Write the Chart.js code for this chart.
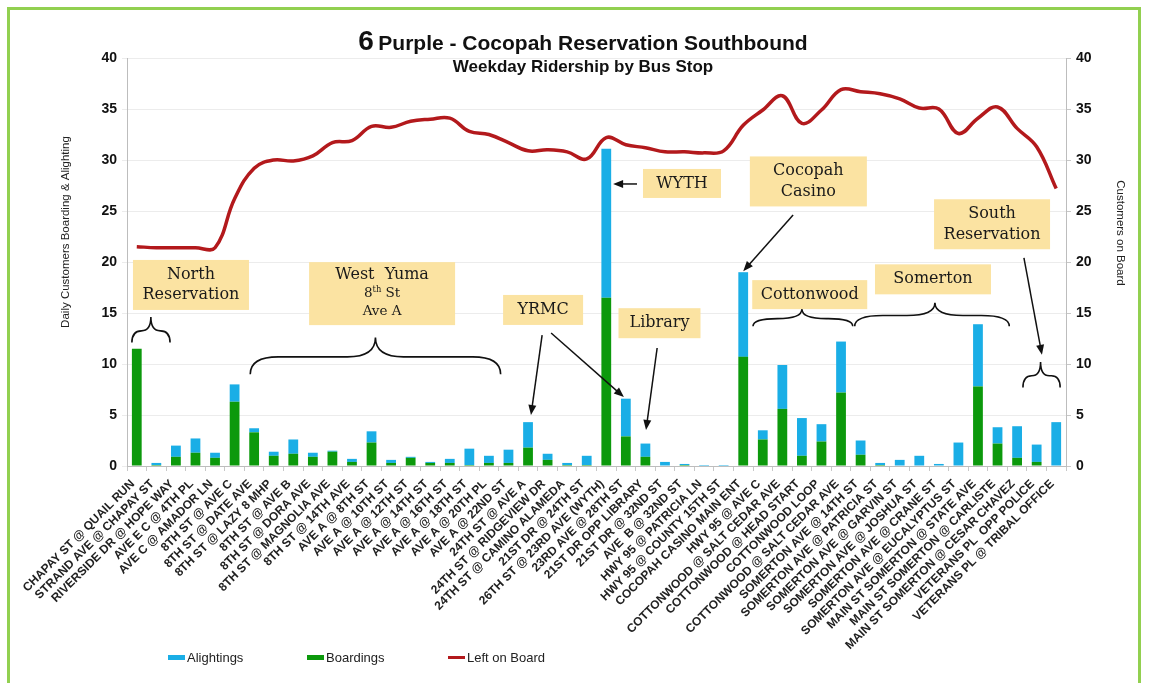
<!DOCTYPE html>
<html>
<head>
<meta charset="utf-8">
<title>6 Purple - Cocopah Reservation Southbound</title>
<script src="https://cdn.jsdelivr.net/npm/chart.js@4.4.1/dist/chart.umd.min.js"></script>
<style>
	body { margin: 0; background: #fff; font-family: "Liberation Sans", Arial, sans-serif; }
	#wrap { position: relative; width: 1149px; height: 683px; overflow: hidden; }
	#wrap canvas { position: absolute; left: 0; top: 0; }
	.frame { position: absolute; left: 7px; top: 7px; width: 1128px; height: 700px; border: 3px solid #92d050; }
	.title { position: absolute; left: 283px; width: 600px; text-align: center; top: 26px; line-height: 30px; font-weight: bold; color: #111; white-space: nowrap; }
	.subtitle { position: absolute; left: 283px; width: 600px; text-align: center; top: 57px; line-height: 20px; font-size: 17px; font-weight: bold; color: #111; white-space: nowrap; }
	.legend-item { position: absolute; top: 650px; height: 16px; line-height: 16px; font-size: 13px; color: #222; white-space: nowrap; }
	.legend-item i { display: inline-block; width: 17px; vertical-align: middle; margin-right: 2px; position: relative; top: -1px; }
</style>
</head>
<body>
<div id="wrap">
	<canvas id="myChart" width="1149" height="683"></canvas>
	<div class="frame"></div>
	<div class="title"><span style="font-size:28px">6</span> <span style="font-size:21px">Purple - Cocopah Reservation Southbound</span></div>
	<div class="subtitle">Weekday Ridership by Bus Stop</div>
	<div id="legend"></div>
</div>
<script>
/* globals Chart:false */
const stops = [
	'CHAPAY ST @ QUAIL RUN', 'STRAND AVE @ CHAPAY ST', 'RIVERSIDE DR @ HOPE WAY', 'AVE E C @ 4TH PL',
	'AVE C @ AMADOR LN', '8TH ST @ AVE C', '8TH ST @ DATE AVE', '8TH ST @ LAZY 8 MHP',
	'8TH ST @ AVE B', '8TH ST @ DORA AVE', '8TH ST @ MAGNOLIA AVE', '8TH ST @ 14TH AVE',
	'AVE A @ 8TH ST', 'AVE A @ 10TH ST', 'AVE A @ 12TH ST', 'AVE A @ 14TH ST',
	'AVE A @ 16TH ST', 'AVE A @ 18TH ST', 'AVE A @ 20TH PL', 'AVE A @ 22ND ST',
	'24TH ST @ AVE A', '24TH ST @ RIDGEVIEW DR', '24TH ST @ CAMINO ALAMEDA', '21ST DR @ 24TH ST',
	'26TH ST @ 23RD AVE (WYTH)', '23RD AVE @ 28TH ST', '21ST DR OPP LIBRARY', '21ST DR @ 32ND ST',
	'AVE  B @ 32ND ST', 'HWY 95 @ PATRICIA LN', 'HWY 95 @ COUNTY 15TH ST', 'COCOPAH CASINO MAIN ENT',
	'HWY 95 @ AVE C', 'COTTONWOOD @ SALT CEDAR AVE', 'COTTONWOOD @ HEAD START', 'COTTONWOOD LOOP',
	'COTTONWOOD @ SALT CEDAR AVE', 'SOMERTON AVE @ 14TH ST', 'SOMERTON AVE @ PATRICIA ST', 'SOMERTON AVE @ GARVIN ST',
	'SOMERTON AVE @ JOSHUA ST', 'SOMERTON AVE @ CRANE ST', 'SOMERTON AVE @ EUCALYPTUS ST', 'MAIN ST SOMERTON @ STATE AVE',
	'MAIN ST SOMERTON @ CARLISTE', 'MAIN ST SOMERTON @ CESAR CHAVEZ', 'VETERANS PL  OPP POLICE', 'VETERANS PL @ TRIBAL OFFICE'
];

const boardings = [
	11.5, 0.1, 0.9, 1.3, 0.8, 6.3, 3.3, 1.0, 1.2, 0.9, 1.4, 0.4,
	2.3, 0.3, 0.8, 0.3, 0.3, 0.1, 0.3, 0.3, 1.8, 0.6, 0.1, 0.1,
	16.5, 2.9, 0.9, 0.0, 0.1, 0.0, 0.0, 10.7, 2.6, 5.6, 1.0, 2.4,
	7.2, 1.1, 0.1, 0.0, 0.0, 0.0, 0.0, 7.8, 2.2, 0.8, 0.4, 0.0
];

const alightings = [
	0.0, 0.2, 1.1, 1.4, 0.5, 1.7, 0.4, 0.4, 1.4, 0.4, 0.1, 0.3,
	1.1, 0.3, 0.1, 0.1, 0.4, 1.6, 0.7, 1.3, 2.5, 0.6, 0.2, 0.9,
	14.6, 3.7, 1.3, 0.4, 0.1, 0.1, 0.1, 8.3, 0.9, 4.3, 3.7, 1.7,
	5.0, 1.4, 0.2, 0.6, 1.0, 0.2, 2.3, 6.1, 1.6, 3.1, 1.7, 4.3
];

const leftOnBoard = [
	21.5, 21.4, 21.4, 21.4, 21.4, 26.2, 29.2, 30.0, 29.9, 30.4, 31.7, 31.9,
	33.3, 33.2, 33.8, 34.0, 34.1, 32.8, 32.5, 31.7, 30.9, 31.0, 30.8, 30.1,
	32.2, 31.5, 31.2, 30.8, 30.8, 30.7, 30.9, 33.4, 34.9, 36.3, 33.6, 34.9,
	36.9, 36.7, 36.5, 36.0, 35.1, 35.0, 32.6, 34.1, 35.2, 33.1, 31.3, 27.2
];

const yTicks = [0, 5, 10, 15, 20, 25, 30, 35, 40];

const colors = { alight: '#1aaee6', board: '#0c990c', onBoard: '#b3191c' };

// callout boxes, placed in category index / axis value units
const callouts = [
	{ lines: [['North', 16], ['Reservation', 16]], i: 2.77, v: 17.75, w: 116, h: 50 },
	{ lines: [['West  Yuma', 16], ['8|th| St', 13.5], ['Ave A', 13.5]], i: 12.54, v: 16.9, w: 146, h: 63 },
	{ lines: [['YRMC', 16]], i: 20.77, v: 15.3, w: 80, h: 30 },
	{ lines: [['WYTH', 16]], i: 27.87, v: 27.7, w: 78, h: 29 },
	{ lines: [['Library', 16]], i: 26.72, v: 14.0, w: 82, h: 30 },
	{ lines: [['Cocopah', 16], ['Casino', 16]], i: 34.33, v: 27.9, w: 117, h: 50 },
	{ lines: [['Cottonwood', 16]], i: 34.4, v: 16.8, w: 115, h: 29 },
	{ lines: [['Somerton', 16]], i: 40.7, v: 18.3, w: 116, h: 30 },
	{ lines: [['South', 16], ['Reservation', 16]], i: 43.72, v: 23.7, w: 116, h: 50 }
];

// braces: from index, to index, tip index, tip value, end value
const braces = [
	[-0.25, 1.7, 0.72, 14.6, 12.1],
	[5.8, 18.6, 12.2, 12.6, 9.0],
	[31.5, 36.6, 34.0, 15.4, 13.7],
	[36.7, 44.6, 40.8, 16.0, 13.7],
	[45.3, 47.2, 46.2, 10.2, 7.7]
];

// arrows: from index, from value, to index, to value
const arrows = [
	[20.72, 12.84, 20.15, 5.0],
	[21.18, 13.04, 24.9, 6.76],
	[26.6, 11.57, 26.03, 3.53],
	[25.57, 27.65, 24.35, 27.65],
	[33.55, 24.6, 31.0, 19.1],
	[45.35, 20.4, 46.27, 10.9]
];

const axisTitles = [
	{ text: 'Daily Customers Boarding & Alighting', x: 66, y: 232, rot: -Math.PI / 2 },
	{ text: 'Customers on Board', x: 1120, y: 233, rot: Math.PI / 2 }
];

function drawArrow(ctx, x1, y1, x2, y2) {
	let ang = Math.atan2(y2 - y1, x2 - x1);
	ctx.beginPath();
	ctx.moveTo(x1, y1);
	ctx.lineTo(x2 - 6 * Math.cos(ang), y2 - 6 * Math.sin(ang));
	ctx.stroke();
	ctx.beginPath();
	ctx.moveTo(x2, y2);
	ctx.lineTo(x2 - 10 * Math.cos(ang) + 4 * Math.sin(ang), y2 - 10 * Math.sin(ang) - 4 * Math.cos(ang));
	ctx.lineTo(x2 - 10 * Math.cos(ang) - 4 * Math.sin(ang), y2 - 10 * Math.sin(ang) + 4 * Math.cos(ang));
	ctx.closePath();
	ctx.fill();
}

function drawBrace(ctx, x0, x1, xc, yt, yb) {
	let ym = (yt + yb) / 2 + 1;
	let q = Math.min(28, (xc - x0) / 2, (x1 - xc) / 2);
	ctx.beginPath();
	ctx.moveTo(x0, yb);
	ctx.quadraticCurveTo(x0, ym, x0 + q, ym);
	ctx.lineTo(xc - q, ym);
	ctx.quadraticCurveTo(xc, ym, xc, yt);
	ctx.quadraticCurveTo(xc, ym, xc + q, ym);
	ctx.lineTo(x1 - q, ym);
	ctx.quadraticCurveTo(x1, ym, x1, yb);
	ctx.stroke();
}

const annotatePlugin = {
	id: 'annotate',
	afterDraw(chart) {
		const ctx = chart.ctx;
		const xs = chart.scales.x;
		const ys = chart.scales.y;
		const px = i => xs.getPixelForValue(i);
		const py = v => ys.getPixelForValue(v);
		ctx.save();

		// axis titles
		ctx.fillStyle = '#222';
		ctx.font = '11.5px "Liberation Sans", Arial, sans-serif';
		ctx.textAlign = 'center';
		ctx.textBaseline = 'middle';
		axisTitles.forEach(t => {
			ctx.save();
			ctx.translate(t.x, t.y);
			ctx.rotate(t.rot);
			ctx.fillText(t.text, 0, 0);
			ctx.restore();
		});

		ctx.strokeStyle = '#111';
		ctx.fillStyle = '#111';
		ctx.lineWidth = 1.6;
		braces.forEach(b => drawBrace(ctx, px(b[0]), px(b[1]), px(b[2]), py(b[3]), py(b[4])));
		ctx.lineWidth = 1.5;
		arrows.forEach(a => drawArrow(ctx, px(a[0]), py(a[1]), px(a[2]), py(a[3])));

		callouts.forEach(c => {
			let cx = px(c.i), cy = py(c.v);
			ctx.fillStyle = '#fbe3a2';
			ctx.fillRect(cx - c.w / 2, cy - c.h / 2, c.w, c.h);
			ctx.fillStyle = '#1a1a1a';
			ctx.textBaseline = 'middle';
			let gap = c.lines.length === 3 ? 17.5 : 20.5;
			let y0 = cy - gap * (c.lines.length - 1) / 2;
			c.lines.forEach((ln, k) => {
				let parts = ln[0].split('|');
				let size = ln[1];
				let font = s => `${s}px "DejaVu Serif", "Liberation Serif", serif`;
				let widths = parts.map((p, n) => {
					ctx.font = font(n === 1 ? size * 0.62 : size);
					return ctx.measureText(p).width;
				});
				let total = widths.reduce((s, w) => s + w, 0);
				let x = cx - total / 2;
				let y = y0 + k * gap + (k === 0 && c.lines.length === 3 ? -1 : 0);
				parts.forEach((p, n) => {
					ctx.font = font(n === 1 ? size * 0.62 : size);
					ctx.textAlign = 'left';
					ctx.fillText(p, x, n === 1 ? y - size * 0.3 : y);
					x += widths[n];
				});
			});
		});
		ctx.restore();
	}
};

Chart.defaults.font.family = '"Liberation Sans", Arial, sans-serif';
Chart.defaults.color = '#111';

const ctx = document.getElementById('myChart');
const myChart = new Chart(ctx, {
	type: 'bar',
	data: {
		labels: stops,
		datasets: [
			{
				type: 'line',
				label: 'Left on Board',
				data: leftOnBoard,
				yAxisID: 'y1',
				borderColor: colors.onBoard,
				backgroundColor: colors.onBoard,
				borderWidth: 3.5,
				pointRadius: 0,
				tension: 0.4,
				order: 0
			},
			{
				label: 'Boardings',
				data: boardings,
				backgroundColor: colors.board,
				barPercentage: 0.5,
				categoryPercentage: 1,
				order: 1
			},
			{
				label: 'Alightings',
				data: alightings,
				backgroundColor: colors.alight,
				barPercentage: 0.5,
				categoryPercentage: 1,
				order: 1
			}
		]
	},
	options: {
		responsive: false,
		animation: false,
		layout: { padding: { top: 58, left: 0, right: 0, bottom: 0 } },
		plugins: {
			legend: { display: false },
			tooltip: { enabled: false }
		},
		scales: {
			x: {
				stacked: true,
				afterFit: s => { s.height = 217; },
				grid: { drawOnChartArea: false, tickLength: 5, color: '#c8c8c8' },
				border: { color: '#bdbdbd' },
				ticks: {
					autoSkip: false,
					minRotation: 45,
					maxRotation: 45,
					padding: 6,
					labelOffset: -4,
					color: '#222',
					font: { size: 12, weight: 'bold' }
				}
			},
			y: {
				stacked: true,
				min: 0,
				max: 40,
				afterFit: s => { s.width = 127; },
				afterBuildTicks: s => { s.ticks = yTicks.map(v => ({ value: v })); },
				grid: { color: '#ececec', tickLength: 5 },
				border: { color: '#bdbdbd' },
				ticks: { padding: 5, color: '#111', font: { size: 14, weight: 'bold' } }
			},
			y1: {
				position: 'right',
				min: 0,
				max: 40,
				afterFit: s => { s.width = 83; },
				afterBuildTicks: s => { s.ticks = yTicks.map(v => ({ value: v })); },
				grid: { drawOnChartArea: false, tickLength: 5, color: '#c8c8c8' },
				border: { color: '#bdbdbd' },
				ticks: { padding: 5, color: '#111', font: { size: 14, weight: 'bold' } }
			}
		}
	},
	plugins: [annotatePlugin]
});

// legend in the order of the original, placed under the left half
let legendItems = [
	{ text: 'Alightings', color: colors.alight, h: 5, left: 168 },
	{ text: 'Boardings', color: colors.board, h: 5, left: 307 },
	{ text: 'Left on Board', color: colors.onBoard, h: 3, left: 448 }
];
let legend = document.getElementById('legend');
legendItems.forEach(item => {
	let el = document.createElement('div');
	el.className = 'legend-item';
	el.style.left = item.left + 'px';
	el.innerHTML = `<i style="height:${item.h}px;background:${item.color}"></i>${item.text}`;
	legend.appendChild(el);
});
</script>
</body>
</html>
